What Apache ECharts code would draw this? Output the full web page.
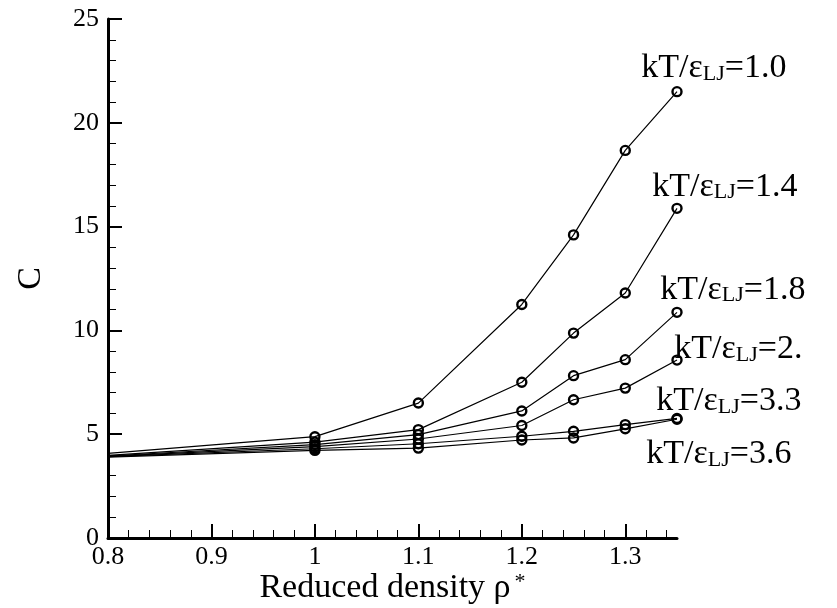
<!DOCTYPE html>
<html>
<head>
<meta charset="utf-8">
<script src="https://cdn.jsdelivr.net/npm/echarts@6/dist/echarts.min.js"></script>
<style>
html,body{margin:0;padding:0;background:#fff;}
#chart{width:837px;height:608px;}
</style>
</head>
<body>
<div id="chart"></div>
<script>
// Reduced density values (x)
const densities = [0.8, 1.0, 1.1, 1.2, 1.25, 1.3, 1.35];
// C values for each temperature
const c_T10 = [4.08, 4.88, 6.50, 11.25, 14.60, 18.67, 21.50];
const c_T14 = [3.98, 4.62, 5.22, 7.50, 9.87, 11.80, 15.88];
const c_T18 = [3.95, 4.50, 4.98, 6.12, 7.82, 8.59, 10.87];
const c_T2x = [3.93, 4.40, 4.77, 5.42, 6.66, 7.22, 8.57];
const c_T33 = [3.92, 4.30, 4.54, 4.90, 5.14, 5.46, 5.76];
const c_T36 = [3.90, 4.22, 4.33, 4.72, 4.82, 5.26, 5.72];
// labels (number after "=")
const tempLabels = ['1.0', '1.4', '1.8', '2.', '3.3', '3.6'];
const xTicks = [0.8, 0.9, 1.0, 1.1, 1.2, 1.3];

const FONT = 'Liberation Serif';
const seriesValues = [c_T10, c_T14, c_T18, c_T2x, c_T33, c_T36];
// label offsets relative to last point [dx, dy of box top]
const labelPos = [[-30, -35], [-19, -33], [-11, -34], [3, -22], [-15, -29], [-25, 24]];

const rich = {
  m: {fontFamily: FONT, fontSize: 34, color: '#000', lineHeight: 34, padding: [0, 0, 9, 0], verticalAlign: 'top'},
  s: {fontFamily: FONT, fontSize: 22, color: '#000', lineHeight: 22, verticalAlign: 'bottom'}
};

const series = seriesValues.map((vals, si) => ({
  type: 'line',
  symbol: 'circle',
  symbolSize: 9,
  z: 3,
  lineStyle: {color: '#000', width: 1.2},
  itemStyle: {color: 'rgba(255,255,255,0)', borderColor: '#000', borderWidth: 2.4},
  emphasis: {disabled: true},
  animation: false,
  data: densities.map((d, i) => {
    const item = {value: [d, vals[i]]};
    if (i === 0) item.symbol = 'none';
    if (i === densities.length - 1) {
      item.label = {
        show: true,
        position: labelPos[si],
        align: 'left',
        verticalAlign: 'top',
        formatter: '{m|kT/ε}{s|LJ}{m|=' + tempLabels[si] + '}',
        rich: rich
      };
    }
    return item;
  })
}));

const chart = echarts.init(document.getElementById('chart'), null, {renderer: 'canvas'});
chart.setOption({
  backgroundColor: '#fff',
  animation: false,
  grid: {left: 108, right: 160, top: 19, bottom: 70, containLabel: false, outerBoundsMode: 'none'},
  xAxis: {
    type: 'value', min: 0.8, max: 1.35, interval: 0.1,
    name: '{a|Reduced density ρ}{b|*}',
    nameLocation: 'middle', nameGap: 33, nameMoveOverlap: false,
    nameTextStyle: {
      rich: {
        a: {fontFamily: FONT, fontSize: 34, color: '#000', lineHeight: 34, padding: [12, 0, 0, 0], verticalAlign: 'bottom'},
        b: {fontFamily: FONT, fontSize: 22, color: '#000', lineHeight: 22, padding: [0, 0, 0, 4], verticalAlign: 'top'}
      }
    },
    axisLine: {show: true, onZero: false, lineStyle: {color: '#000', width: 3}},
    axisTick: {show: true, inside: true, length: 14, lineStyle: {color: '#000', width: 2}, customValues: xTicks},
    minorTick: {show: true, splitNumber: 5, length: 8, lineStyle: {color: '#000', width: 1}},
    axisLabel: {
      customValues: xTicks,
      fontFamily: FONT, fontSize: 26, color: '#000', margin: 6,
      formatter: v => (Math.abs(v - 1) < 1e-9 ? '1' : String(Math.round(v * 10) / 10))
    },
    splitLine: {show: false}
  },
  yAxis: {
    type: 'value', min: 0, max: 25, interval: 5,
    name: 'C', nameLocation: 'middle', nameGap: 60, nameRotate: 90, nameMoveOverlap: false,
    nameTextStyle: {fontFamily: FONT, fontSize: 34, color: '#000'},
    axisLine: {show: true, onZero: false, lineStyle: {color: '#000', width: 3}},
    axisTick: {show: true, inside: true, length: 14, lineStyle: {color: '#000', width: 2}},
    minorTick: {show: true, splitNumber: 5, length: 8, lineStyle: {color: '#000', width: 1}},
    axisLabel: {fontFamily: FONT, fontSize: 26, color: '#000', margin: 9},
    splitLine: {show: false}
  },
  series: series
});
</script>
</body>
</html>
